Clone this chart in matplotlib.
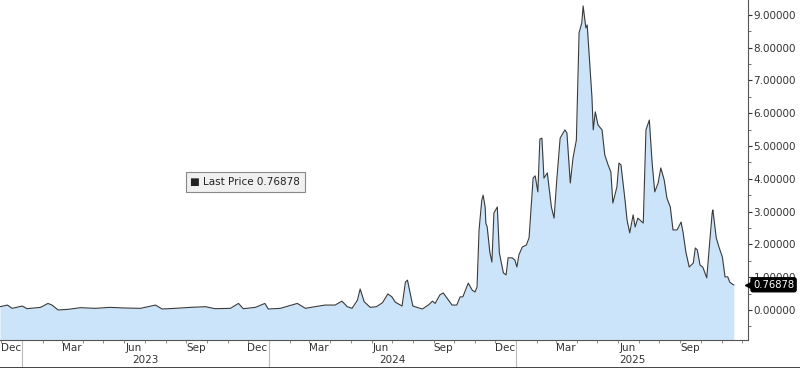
import numpy as np
import pandas as pd
import matplotlib
matplotlib.use('Agg')
import matplotlib.pyplot as plt
import matplotlib.dates as mdates
from matplotlib.lines import Line2D

# Dados
dates = [
    '2022-11-29', '2022-12-10', '2022-12-17', '2023-01-01', '2023-01-08', '2023-01-28',
    '2023-02-08', '2023-02-14', '2023-02-23', '2023-03-10', '2023-03-28', '2023-04-19',
    '2023-05-11', '2023-06-02', '2023-06-25', '2023-07-17', '2023-07-27', '2023-08-15',
    '2023-09-07', '2023-09-29', '2023-10-13', '2023-11-05', '2023-11-17', '2023-11-24',
    '2023-12-12', '2023-12-26', '2023-12-31', '2024-01-18', '2024-02-12', '2024-02-24',
    '2024-03-09', '2024-03-24', '2024-04-08', '2024-04-18', '2024-04-26', '2024-05-03',
    '2024-05-11', '2024-05-15', '2024-05-21', '2024-05-30', '2024-06-08', '2024-06-17',
    '2024-06-25', '2024-07-01', '2024-07-06', '2024-07-16', '2024-07-21', '2024-07-24',
    '2024-07-28', '2024-08-01', '2024-08-15', '2024-08-24', '2024-08-30', '2024-09-03',
    '2024-09-10', '2024-09-15', '2024-09-21', '2024-09-28', '2024-10-05', '2024-10-10',
    '2024-10-14', '2024-10-22', '2024-10-28', '2024-11-01', '2024-11-04', '2024-11-07',
    '2024-11-11', '2024-11-13', '2024-11-16', '2024-11-17', '2024-11-19', '2024-11-23',
    '2024-11-26', '2024-11-29', '2024-12-04', '2024-12-07', '2024-12-13', '2024-12-17',
    '2024-12-20', '2024-12-26', '2024-12-30', '2025-01-02', '2025-01-05', '2025-01-10',
    '2025-01-16', '2025-01-20', '2025-01-26', '2025-01-29', '2025-02-02', '2025-02-05',
    '2025-02-08', '2025-02-11', '2025-02-16', '2025-02-22', '2025-02-26', '2025-03-02',
    '2025-03-07', '2025-03-14', '2025-03-17', '2025-03-22', '2025-03-26', '2025-03-31',
    '2025-04-04', '2025-04-08', '2025-04-10', '2025-04-14', '2025-04-16', '2025-04-23',
    '2025-04-25', '2025-04-28', '2025-05-02', '2025-05-08', '2025-05-12', '2025-05-17',
    '2025-05-21', '2025-05-24', '2025-05-30', '2025-06-02', '2025-06-05', '2025-06-11',
    '2025-06-14', '2025-06-18', '2025-06-23', '2025-06-26', '2025-06-30', '2025-07-08',
    '2025-07-12', '2025-07-17', '2025-07-21', '2025-07-25', '2025-07-30', '2025-08-03',
    '2025-08-08', '2025-08-12', '2025-08-17', '2025-08-21', '2025-08-27', '2025-09-02',
    '2025-09-05', '2025-09-09', '2025-09-14', '2025-09-20', '2025-09-23', '2025-09-26',
    '2025-09-30', '2025-10-04', '2025-10-10', '2025-10-13', '2025-10-18', '2025-10-19',
    '2025-10-24', '2025-10-28', '2025-11-02', '2025-11-06', '2025-11-10', '2025-11-13',
    '2025-11-18', '2025-11-19',
]
prices = [
    0.10, 0.15, 0.05, 0.12, 0.04, 0.08,
    0.20, 0.15, 0.00, 0.02, 0.07, 0.05,
    0.08, 0.06, 0.05, 0.15, 0.03, 0.05,
    0.08, 0.10, 0.04, 0.05, 0.20, 0.04,
    0.08, 0.20, 0.03, 0.05, 0.20, 0.05,
    0.10, 0.15, 0.15, 0.27, 0.10, 0.05,
    0.30, 0.64, 0.25, 0.08, 0.10, 0.22,
    0.49, 0.40, 0.24, 0.12, 0.85, 0.91,
    0.52, 0.12, 0.03, 0.15, 0.27, 0.20,
    0.46, 0.52, 0.35, 0.15, 0.15, 0.40,
    0.40, 0.82, 0.60, 0.55, 0.70, 2.44,
    3.35, 3.50, 3.14, 2.65, 2.53, 1.75,
    1.46, 2.96, 3.14, 1.74, 1.13, 1.07,
    1.59, 1.59, 1.52, 1.31, 1.68, 1.92,
    1.98, 2.20, 4.02, 4.09, 3.60, 5.21,
    5.24, 4.02, 4.18, 3.14, 2.80, 3.96,
    5.24, 5.49, 5.40, 3.87, 4.63, 5.18,
    8.45, 8.75, 9.27, 8.60, 8.69, 6.50,
    5.49, 6.04, 5.64, 5.49, 4.73, 4.42,
    4.21, 3.26, 3.75, 4.48, 4.42, 3.35,
    2.74, 2.35, 2.90, 2.53, 2.80, 2.65,
    5.49, 5.79, 4.51, 3.60, 3.87, 4.33,
    3.96, 3.41, 3.14, 2.44, 2.44, 2.68,
    2.35, 1.77, 1.31, 1.43, 1.89, 1.83,
    1.37, 1.31, 0.98, 1.74, 2.96, 3.05,
    2.20, 1.92, 1.62, 1.01, 1.01, 0.85,
    0.77, 0.76878,
]
last_price = 0.76878
years = [2023, 2024, 2025]
quarter_months = [3, 6, 9, 12]

df = pd.DataFrame({'date': pd.to_datetime(dates), 'price': prices})

x_start = pd.Timestamp('2022-11-29')
x_end = pd.Timestamp('2025-12-10')
y_min, y_max = -0.915, 9.45

fig = plt.figure(figsize=(8, 3.68), dpi=100)
ax = fig.add_axes([0.0, 28 / 368, 748 / 800, 340 / 368])

ax.fill_between(df['date'], df['price'], y_min, color='#cce4fa', lw=0)
ax.plot(df['date'], df['price'], color='#3a3a3a', lw=0.8)

ax.set_xlim(x_start, x_end)
ax.set_ylim(y_min, y_max)

# eixo y à direita
ax.yaxis.tick_right()
ax.set_yticks(np.arange(0, 10, 1))
ax.set_yticks(np.arange(-0.5, 9.5, 1), minor=True)
ax.yaxis.set_major_formatter(plt.FormatStrFormatter('%.5f'))
ax.tick_params(axis='y', which='major', direction='out', length=3, width=0.8,
               labelsize=7.5, colors='#333333', pad=1)
ax.tick_params(axis='y', which='minor', direction='out', length=2, width=0.6,
               colors='#555555')

for s in ['top', 'left']:
    ax.spines[s].set_visible(False)
ax.spines['right'].set_color('#555555')
ax.spines['bottom'].set_color('#555555')
ax.spines['right'].set_linewidth(0.8)
ax.spines['bottom'].set_linewidth(0.8)

# eixo x: marcas mensais, rótulos trimestrais no meio do mês
ax.xaxis.set_minor_locator(mdates.MonthLocator())
ax.xaxis.set_major_locator(mdates.MonthLocator(bymonth=quarter_months, bymonthday=15))
ax.xaxis.set_major_formatter(mdates.DateFormatter('%b'))
ax.tick_params(axis='x', which='major', length=0, labelsize=7.5, colors='#333333', pad=2)
ax.tick_params(axis='x', which='minor', length=2.5, width=0.6, colors='#777777')

# rótulos de ano e separadores
for yr in years:
    a = max(pd.Timestamp(f'{yr}-01-01'), x_start)
    b = min(pd.Timestamp(f'{yr + 1}-01-01'), x_end)
    mid = a + (b - a) / 2
    ax.annotate(str(yr), xy=(mdates.date2num(mid), 0), xycoords=('data', 'axes fraction'),
                xytext=(0, -20), textcoords='offset pixels', ha='center', va='center',
                fontsize=7.5, color='#333333', annotation_clip=False)
    xs = mdates.date2num(pd.Timestamp(f'{yr}-01-01'))
    ax.add_line(Line2D([xs, xs], [0, -27 / 340], transform=ax.get_xaxis_transform(),
                       color='#bbbbbb', lw=0.8, clip_on=False))

fig.add_artist(Line2D([0, 1], [0.5 / 368, 0.5 / 368], color='#222222', lw=1.2))

# legenda
ax.text(0.328, 0.465, '\u25A0 Last Price 0.76878', transform=ax.transAxes,
        ha='center', va='center', fontsize=7.5, color='#222222',
        bbox=dict(boxstyle='square,pad=0.45', fc='#f0f0f0', ec='#888888', lw=0.8))

# etiqueta do último preço
ax.annotate(f'{last_price:.5f}', xy=(1, last_price), xycoords=('axes fraction', 'data'),
            xytext=(5, 0), textcoords='offset pixels', ha='left', va='center',
            fontsize=7.2, color='white', annotation_clip=False, zorder=10,
            bbox=dict(boxstyle='round,pad=0.2', fc='black', ec='black'))
ax.plot([1.0], [last_price], marker='<', color='black', markersize=5, zorder=10,
        transform=ax.get_yaxis_transform(), clip_on=False)

fig.savefig('out.png', dpi=100)
